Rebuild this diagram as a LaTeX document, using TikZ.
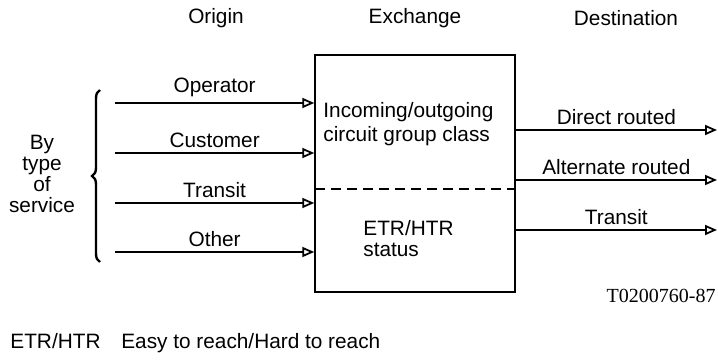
\documentclass[tikz,border=0pt]{standalone}
\usepackage{fontspec}
\setmainfont{Liberation Sans}
\newfontfamily\figserif{Liberation Serif}
\usetikzlibrary{arrows.meta,positioning,decorations.pathreplacing}

\begin{document}
\begin{tikzpicture}[x=0.5pt,y=-0.5pt,
  txt/.style={font=\fontsize{10.4}{12}\selectfont,inner sep=0pt},
  head/.style={txt},
  box/.style={draw,line width=0.75pt,minimum width=100pt,minimum height=118.5pt,inner sep=0pt},
  arr/.style={-{Triangle[open,length=6pt,width=5pt,line width=0.9pt]},line width=0.75pt},
  lbl/.style={txt,above=2.5pt}]
  \useasboundingbox (0,0) rectangle (718,363);
  % column headings
  \node[head] (horig) at (216,18) {Origin};
  \node[head] (hexch) at (415,18) {Exchange};
  \node[head] (hdest) at (626,18) {Destination};
  % exchange block
  \node[box] (exch) at (415,173.5) {};
  \coordinate (split) at (315,189);
  \draw[line width=0.75pt,dash pattern=on 5pt off 3pt] (split) -- (split -| exch.east);
  \node[txt,anchor=west,align=left] (cgc) at (323,124) {Incoming/outgoing\\circuit group class};
  \node[txt,anchor=west,align=left,font=\fontsize{10.4}{10.5}\selectfont] (etr) at (363,239) {ETR/HTR\\status};
  % incoming traffic
  \coordinate (in1) at (115,103);
  \coordinate (in2) at (115,153);
  \coordinate (in3) at (115,203);
  \coordinate (in4) at (115,252);
  \draw[arr] (in1) -- node[lbl]{Operator} (in1 -| exch.west);
  \draw[arr] (in2) -- node[lbl]{Customer} (in2 -| exch.west);
  \draw[arr] (in3) -- node[lbl]{Transit} (in3 -| exch.west);
  \draw[arr] (in4) -- node[lbl]{Other} (in4 -| exch.west);
  \draw[line width=1.2pt,decorate,decoration={brace,amplitude=4pt}] (100,262) -- (100,90);
  \node[txt,align=center,font=\fontsize{10.4}{10.5}\selectfont] (svc) at (42,174) {By\\type\\of\\service};
  % outgoing traffic
  \coordinate (out1) at (717,130);
  \coordinate (out2) at (717,180);
  \coordinate (out3) at (717,230);
  \draw[arr] (exch.east |- out1) -- node[lbl]{Direct routed} (out1);
  \draw[arr] (exch.east |- out2) -- node[lbl]{Alternate routed} (out2);
  \draw[arr] (exch.east |- out3) -- node[lbl]{Transit} (out3);
  % key
  \node[txt,anchor=east,font=\figserif\fontsize{10}{12}\selectfont] (ref) at (716,296) {T0200760-87};
  \node[txt,anchor=west] (key) at (10,343) {ETR/HTR\quad Easy to reach/Hard to reach};
\end{tikzpicture}
\end{document}
